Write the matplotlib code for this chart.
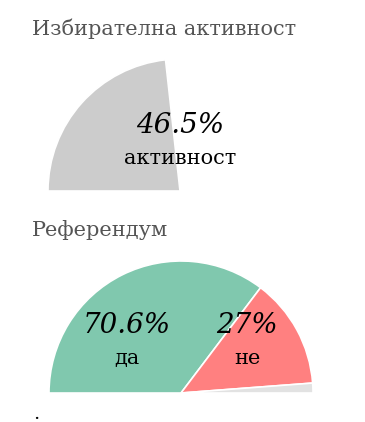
import matplotlib
matplotlib.use("Agg")
import matplotlib.pyplot as plt

# data
turnout_title = "Избирателна активност"
turnout_values = [46.5]
turnout_label = "активност"

ref_title = "Референдум"
ref_labels = ["да", "не", "друго"]
ref_values = [70.6, 27.0, 2.4]

GRAY = "#cccccc"
GREEN = "#80c8ae"
RED = "#ff8080"
OTHER = "#e2e2e2"
TITLE_C = "#555555"

W, H = 365, 422
fig = plt.figure(figsize=(W / 100, H / 100), dpi=100)
ax = fig.add_axes([0, 0, 1, 1])
ax.set_xlim(0, W)
ax.set_ylim(0, H)
ax.set_aspect("equal")
ax.axis("off")

serif = ["DejaVu Serif"]


def half_pie(values, colors, center, radius):
    # half circle: pad with the unused part of the semicircle, plus the hidden lower half
    vals = list(values) + [100 - sum(values), 100]
    cols = list(colors) + ["none", "none"]
    wedges, _ = ax.pie(vals, colors=cols, startangle=180, counterclock=False,
                       center=center, radius=radius, frame=True,
                       wedgeprops=dict(edgecolor="white", linewidth=1.2))
    for w in wedges[len(values):]:
        w.set_edgecolor("none")
    return wedges


# turnout
ax.text(32, H - 35, turnout_title, fontsize=15, color=TITLE_C, family=serif,
        ha="left", va="baseline")
half_pie(turnout_values, [GRAY], (180, H - 191), 132)
ax.text(180, H - 133, f"{turnout_values[0]}%", fontsize=20, style="italic",
        family=serif, ha="center", va="baseline", color="black")
ax.text(180, H - 164, turnout_label, fontsize=15, family=serif,
        ha="center", va="baseline", color="black")

# referendum
ax.text(32, H - 236, ref_title, fontsize=15, color=TITLE_C, family=serif,
        ha="left", va="baseline")
half_pie(ref_values, [GREEN, RED, OTHER], (181, H - 393), 132)
for x, v, lab in [(127, ref_values[0], ref_labels[0]), (247, ref_values[1], ref_labels[1])]:
    ax.text(x, H - 333, f"{v:g}%", fontsize=20, style="italic", family=serif,
            ha="center", va="baseline", color="black")
    ax.text(x, H - 364, lab, fontsize=15, family=serif,
            ha="center", va="baseline", color="black")

ax.text(33, H - 419, ".", fontsize=14, family=serif, ha="left", va="baseline")

ax.set_xlim(0, W)
ax.set_ylim(0, H)
fig.savefig("out.png", dpi=100)
